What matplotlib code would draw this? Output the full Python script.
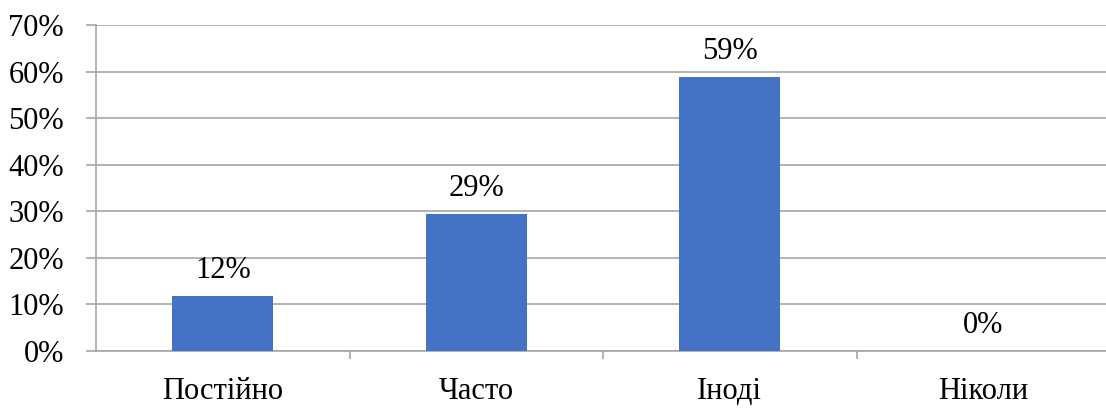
import matplotlib.pyplot as plt
from matplotlib.ticker import FuncFormatter, FixedLocator, NullFormatter

# Survey answers (share of respondents, %)
categories = ["Постійно", "Часто", "Іноді", "Ніколи"]
values = [11.76, 29.41, 58.82, 0.0]
labels = ["12%", "29%", "59%", "0%"]

plt.rcParams['font.family'] = ['Liberation Serif', 'DejaVu Serif']

W, H = 1106, 417
fig = plt.figure(figsize=(W / 100, H / 100), dpi=100)
# plot area in pixel coords of the reference: x 96..1110, y 25..351
ax = fig.add_axes([96 / W, (H - 351) / H, (1110 - 96) / W, (351 - 25) / H])

grid_col = "#A6A6A6"
fs = 22
x = list(range(len(categories)))
ax.bar(x, values, width=0.4, color="#4472C4", zorder=3)

for xi, v, lab in zip(x, values, labels):
    ax.annotate(lab, (xi, v), xytext=(0, 8), textcoords="offset points",
                ha="center", va="bottom", fontsize=fs, color="black")

ax.set_xlim(-0.5, len(categories) - 0.5)
ax.set_ylim(0, 70)
ax.set_yticks(range(0, 71, 10))
ax.yaxis.set_major_formatter(FuncFormatter(lambda v, p: f"{int(v)}%"))
ax.yaxis.grid(True, color=grid_col, linewidth=1.2, zorder=0)

# category labels in the middle, tick marks at the boundaries
ax.set_xticks(x)
ax.set_xticklabels(categories)
ax.tick_params(axis="x", which="major", length=0, pad=19, labelsize=fs)
ax.xaxis.set_minor_locator(FixedLocator([0.5, 1.5, 2.5]))
ax.xaxis.set_minor_formatter(NullFormatter())
ax.tick_params(axis="x", which="minor", length=5.8, width=1.2, color=grid_col)
ax.tick_params(axis="y", length=7.2, width=1.2, color=grid_col, pad=16, labelsize=fs)

for s in ["top", "right"]:
    ax.spines[s].set_visible(False)
ax.spines["left"].set_color(grid_col)
ax.spines["left"].set_linewidth(1.2)
ax.spines["bottom"].set_color(grid_col)
ax.spines["bottom"].set_linewidth(1.2)

fig.savefig("out.png", dpi=100)
